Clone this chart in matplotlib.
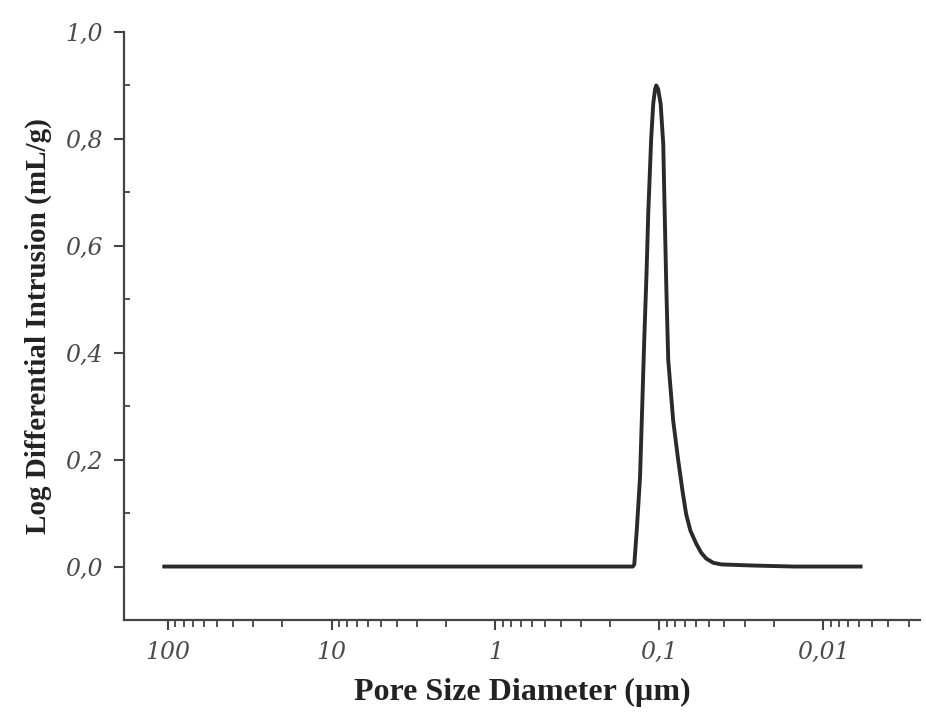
import numpy as np
import matplotlib.pyplot as plt
from matplotlib.ticker import FuncFormatter, LogLocator, MultipleLocator

# 孔径 (µm) と 対数微分圧入量 (mL/g)
pore_diameter = [105, 50, 20, 10, 5, 2, 1, 0.5, 0.2, 0.145, 0.142,
                 0.137, 0.131, 0.127, 0.1235, 0.1195, 0.1167, 0.112, 0.1088,
                 0.106, 0.1043, 0.1015, 0.098, 0.0945, 0.0932, 0.0905,
                 0.0881, 0.0822, 0.0766, 0.072, 0.0685, 0.0645, 0.0595,
                 0.0555, 0.0517, 0.0468, 0.0418, 0.0275, 0.015, 0.01, 0.0059]
log_diff_intrusion = [0.0, 0.0, 0.0, 0.0, 0.0, 0.0, 0.0, 0.0, 0.0, 0.0, 0.004,
                      0.07, 0.167, 0.30, 0.423, 0.55, 0.661, 0.80, 0.866,
                      0.893, 0.90, 0.893, 0.865, 0.79, 0.70, 0.52,
                      0.386, 0.273, 0.199, 0.14, 0.098, 0.067, 0.043,
                      0.026, 0.015, 0.007, 0.004, 0.002, 0.0, 0.0, 0.0]

x_ticks = [100, 10, 1, 0.1, 0.01]
x_ticklabels = ["100", "10", "1", "0,1", "0,01"]
y_ticks = [0.0, 0.2, 0.4, 0.6, 0.8, 1.0]

fig = plt.figure(figsize=(9.26, 7.2), dpi=100)
ax = fig.add_axes([124 / 926, 100 / 720, (920 - 124) / 926, (620 - 32) / 720])

ax.plot(pore_diameter, log_diff_intrusion, color="#2a2a2a", linewidth=2.8)

ax.set_xscale("log")
ax.set_xlim(185, 0.00256)
ax.set_ylim(-0.1, 1.0)

ax.set_xticks(x_ticks)
ax.set_xticklabels(x_ticklabels)
ax.xaxis.set_minor_locator(LogLocator(base=10, subs=np.arange(2, 10), numticks=20))
ax.xaxis.set_minor_formatter(FuncFormatter(lambda v, p: ""))

ax.set_yticks(y_ticks)
ax.yaxis.set_major_formatter(FuncFormatter(lambda v, p: f"{v:.1f}".replace(".", ",")))
ax.yaxis.set_minor_locator(MultipleLocator(0.1))

for s in ["top", "right"]:
    ax.spines[s].set_visible(False)
for s in ["left", "bottom"]:
    ax.spines[s].set_linewidth(1.6)
    ax.spines[s].set_color("#444444")

ax.tick_params(axis="both", which="major", direction="out", length=7, width=1.5,
               color="#444444", labelsize=17, labelcolor="#4a4a4a", pad=8)
ax.tick_params(axis="x", which="minor", direction="out", length=5, width=1.3, color="#444444")
ax.tick_params(axis="y", which="minor", direction="in", length=4, width=1.3, color="#444444")

for lab in ax.get_xticklabels() + ax.get_yticklabels():
    lab.set_family("DejaVu Serif")
    lab.set_style("italic")

ax.set_xlabel("Pore Size Diameter (µm)", family="Liberation Serif", weight="bold",
              fontsize=23, color="#222222", labelpad=10)
ax.set_ylabel("Log Differential Intrusion (mL/g)", family="Liberation Serif", weight="bold",
              fontsize=21, color="#222222", labelpad=10)

plt.savefig("out.png", dpi=100)
